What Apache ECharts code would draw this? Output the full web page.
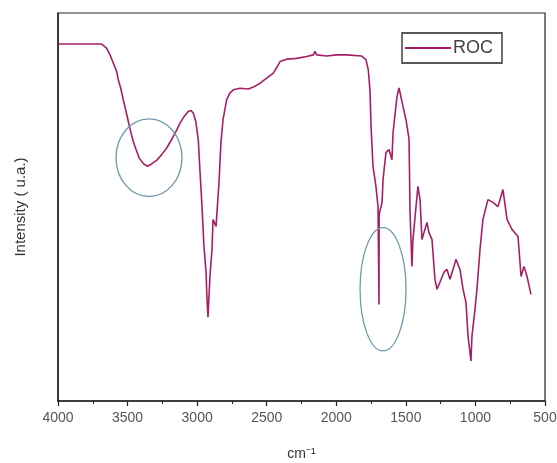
<!DOCTYPE html>
<html>
<head>
<meta charset="utf-8">
<script src="https://cdn.jsdelivr.net/npm/echarts@6/dist/echarts.min.js"></script>
<style>html,body{margin:0;padding:0;background:#fff}#c{width:557px;height:463px}</style>
</head>
<body>
<div id="c"></div>
<script>
// Wavenumbers (cm^-1) and intensity (arbitrary units)
const wavenumbers = [4000,3686,3650,3626,3603,3578,3567,3549,3531,3511,3495,3478,3459,3439,3416,3387,3358,3327,3291,3255,3219,3183,3152,3123,3094,3064,3044,3028,3010,2992,2979,2965,2951,2936,2929,2922,2908,2893,2886,2864,2843,2829,2814,2788,2764,2740,2692,2632,2596,2548,2500,2453,2417,2404,2356,2285,2213,2165,2153,2141,2069,1997,1925,1817,1786,1770,1758,1750,1736,1715,1700,1693,1692,1686,1671,1664,1643,1621,1600,1592,1564,1549,1520,1499,1477,1470,1456,1449,1427,1413,1398,1384,1370,1348,1334,1312,1291,1276,1255,1226,1204,1183,1154,1140,1111,1089,1068,1053,1032,1025,1003,989,967,946,910,874,838,802,773,737,694,672,651,629,601];
const intensity = [92.0,92.0,90.9,89.2,87.1,84.9,82.8,80.6,77.6,74.6,72.1,69.5,66.9,64.8,62.6,61.2,60.5,61.1,62.0,63.5,65.2,67.4,69.5,71.6,73.3,74.6,74.9,74.2,72.1,67.4,58.9,50.1,39.8,33.2,26.2,21.6,32.1,39.1,46.8,45.0,56.3,66.6,72.5,77.6,79.4,80.2,80.6,80.4,80.9,81.9,83.2,84.5,86.6,87.5,88.1,88.3,88.8,89.2,90.1,89.2,88.9,89.2,89.2,88.9,87.9,85.3,80.2,70.7,60.4,55.3,50.1,24.9,48.1,48.1,51.2,57.1,64.0,64.8,62.2,69.2,78.4,80.7,75.8,72.5,67.4,48.6,34.7,41.6,50.1,55.3,51.9,41.6,43.4,46.0,43.4,41.6,31.4,28.8,30.6,33.2,33.9,31.4,34.7,36.5,33.9,28.8,25.4,16.7,10.3,16.7,23.7,28.8,39.1,46.8,51.9,51.2,50.1,54.5,46.8,44.2,42.4,32.1,34.7,32.1,27.5];
const seriesName = 'ROC';
// Annotation ellipses: centre wavenumber, centre intensity, half-width (cm^-1), half-height (a.u.)
const ellipseCx = [3346, 1664];
const ellipseCy = [62.7, 28.8];
const ellipseRx = [237, 165];
const ellipseRy = [10.0, 15.9];
const xTicks = [4000,3500,3000,2500,2000,1500,1000,500];

const chart = echarts.init(document.getElementById('c'), null, {renderer:'canvas'});
const lineData = wavenumbers.map((w,i)=>[w,intensity[i]]);
const ellData = ellipseCx.map((x,i)=>[x,ellipseCy[i],ellipseRx[i],ellipseRy[i]]);
const font = 'Liberation Sans, Arial, sans-serif';
chart.setOption({
  animation:false,
  backgroundColor:'#fff',
  grid:{left:58,right:12,top:13,bottom:62,containLabel:false,outerBoundsMode:'none',
    show:true,borderColor:'#222',borderWidth:1.2,backgroundColor:'transparent'},
  legend:{
    left:402, top:33, padding:[6,9,6,3], borderColor:'#222', borderWidth:1.3,
    itemWidth:46, itemHeight:2, icon:'rect', itemGap:0,
    textStyle:{fontFamily:font,fontSize:18,color:'#444',padding:[0,0,0,-3]},
    data:[seriesName]
  },
  xAxis:{
    type:'value', min:500, max:4000, interval:500, inverse:true,
    name:'cm⁻¹', nameLocation:'middle', nameGap:46,
    nameTextStyle:{fontFamily:font,fontSize:14,color:'#333'},
    axisLine:{show:true,lineStyle:{color:'#222',width:1.5}},
    axisTick:{show:true,length:5,inside:false,lineStyle:{color:'#222',width:1.2}},
    minorTick:{show:true,splitNumber:2,length:3,lineStyle:{color:'#222',width:1}},
    axisLabel:{fontFamily:font,fontSize:14,color:'#555',margin:10,
      formatter:v=>xTicks.includes(v)?String(v):''},
    splitLine:{show:false}
  },
  yAxis:{
    type:'value', min:0, max:100,
    name:'Intensity ( u.a.)', nameLocation:'middle', nameGap:30,
    nameTextStyle:{fontFamily:font,fontSize:15,color:'#333'},
    axisLine:{show:true,lineStyle:{color:'#222',width:1.5}},
    axisTick:{show:false}, axisLabel:{show:false}, splitLine:{show:false}
  },
  series:[
    {
      name:seriesName, type:'line', data:lineData, showSymbol:false, symbol:'none',
      lineStyle:{color:'#a61e66',width:1.6}, itemStyle:{color:'#a61e66'}, z:3
    },
    {
      type:'custom', data:ellData, silent:true, z:4,
      renderItem:(params,api)=>{
        const c = api.coord([api.value(0), api.value(1)]);
        const s = api.size([api.value(2), api.value(3)]);
        return {type:'ellipse', shape:{cx:c[0],cy:c[1],rx:Math.abs(s[0]),ry:Math.abs(s[1])},
          style:{fill:null,stroke:'#6f9aae',lineWidth:1.3}};
      }
    }
  ]
});
</script>
</body>
</html>
